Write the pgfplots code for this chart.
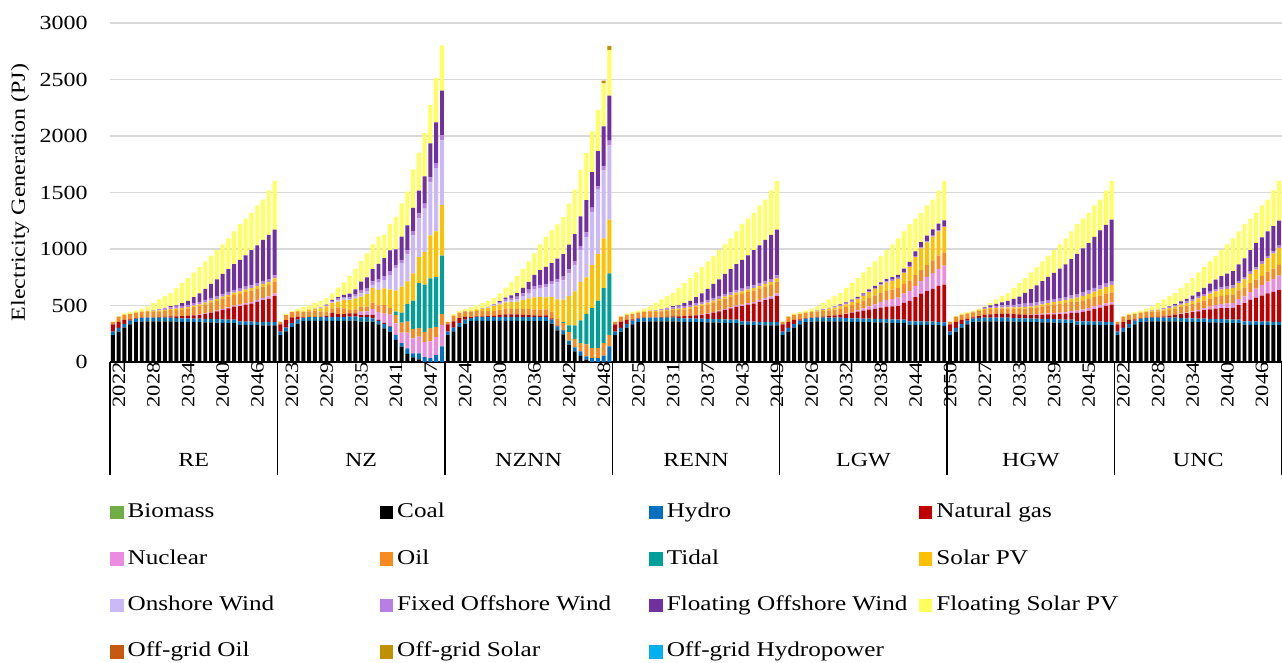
\documentclass[border=0pt]{standalone}
\usepackage{fontspec}
\setmainfont{Liberation Serif}[FakeStretch=1.2]
\usepackage{pgfplots}
\usepackage{pgfplotstable}
\pgfplotsset{compat=1.18}
\definecolor{cBio}{HTML}{70AD47}
\definecolor{cCoal}{HTML}{000000}
\definecolor{cHydro}{HTML}{0070C0}
\definecolor{cGas}{HTML}{C00000}
\definecolor{cNuc}{HTML}{EB8CE0}
\definecolor{cOil}{HTML}{FB8A1E}
\definecolor{cTidal}{HTML}{00A09A}
\definecolor{cSpv}{HTML}{FFC000}
\definecolor{cOnw}{HTML}{CBB9F7}
\definecolor{cFow}{HTML}{B77EE6}
\definecolor{cFlw}{HTML}{7030A0}
\definecolor{cFspv}{HTML}{FFFF5E}
\definecolor{cOgOil}{HTML}{C55A11}
\definecolor{cOgSol}{HTML}{BF9000}
\definecolor{cOgHyd}{HTML}{00B0F0}

% RE group (first rows of the full table)
\pgfplotstableread{
coal hydro gas nuc oil tidal spv onw fow flw fspv ogs
238 30 65 0 22 0 0 0 0 0 3 0
268 33 55 0 45 0 0 0 0 0 4 0
305 32 35 0 45 0 3 0 0 0 10 0
334 32 12 0 45 0 5 0 0 0 14 0
352 32 5 0 45 0 6 0 0 0 15 0
358 32 3 0 48 0 8 0 0 0 23 0
360 32 3 0 48 0 8 0 3 0 38 0
360 32 3 0 48 0 9 0 5 0 63 0
360 32 5 0 50 0 10 0 8 3 87 0
360 32 8 0 52 0 10 0 12 6 102 0
360 32 12 0 55 0 10 0 15 10 116 0
358 31 14 0 58 0 11 0 18 12 153 0
356 31 18 0 60 0 12 0 20 24 176 0
355 31 22 0 65 0 12 0 20 36 202 0
353 31 28 3 70 0 13 0 22 53 220 0
352 31 35 4 75 0 14 0 22 74 233 0
350 31 45 5 80 0 15 0 23 98 243 0
350 31 55 6 85 0 16 0 24 124 249 0
348 31 68 7 88 0 17 0 24 148 261 0
346 31 85 8 90 0 18 0 25 177 260 0
345 30 100 9 92 0 19 0 25 201 274 0
344 30 115 10 95 0 20 0 25 228 288 0
330 30 135 12 96 0 21 0 25 254 317 0
328 30 150 14 97 0 22 0 25 278 324 0
327 30 160 16 98 0 23 0 25 311 330 0
326 30 175 18 99 0 24 0 25 334 354 0
325 30 192 20 100 0 25 0 25 364 356 0
324 30 205 22 102 0 26 0 25 390 394 0
323 30 230 24 104 0 30 0 25 405 429 0
}\alldata

% NZ group
\pgfplotstableread{
coal hydro gas nuc oil tidal spv onw fow flw fspv ogs
238 30 65 0 22 0 0 0 0 0 3 0
271 33 66 0 45 0 0 0 0 0 8 0
310 33 51 0 48 0 0 0 0 0 8 0
340 36 24 0 48 0 3 0 0 0 19 0
361 30 3 0 48 0 6 0 0 0 37 0
364 33 3 0 48 0 15 0 0 0 37 0
364 33 3 0 54 0 18 0 3 0 45 0
364 33 3 0 45 0 30 3 5 0 57 0
364 33 10 0 40 0 45 5 8 3 57 0
364 33 39 0 39 0 45 8 12 10 58 0
364 33 27 0 60 0 51 10 15 15 83 0
364 33 27 0 51 0 75 10 12 22 111 0
366 35 30 0 30 0 88 10 12 35 155 0
366 35 30 0 35 0 97 20 18 41 181 0
357 38 20 30 44 0 89 30 30 74 182 0
357 40 20 30 44 0 109 30 24 94 214 0
357 30 30 50 59 0 127 30 30 109 219 0
333 30 10 70 59 0 136 65 30 135 241 0
298 40 8 83 74 0 148 74 35 160 208 0
268 44 5 103 59 0 162 124 40 183 233 0
195 44 0 103 74 30 186 200 25 140 289 0
136 30 0 94 89 89 230 206 30 206 294 0
71 50 0 139 97 156 200 240 35 222 297 0
41 35 0 133 83 251 242 339 35 206 340 0
24 53 0 148 74 398 230 345 44 200 337 0
0 44 0 133 89 419 289 384 44 240 384 0
0 35 0 147 118 440 380 470 44 300 339 0
0 60 0 162 89 440 404 560 44 362 393 0
0 138 0 191 97 515 447 573 44 397 400 0
}\tabNZ

% NZNN group
\pgfplotstableread{
coal hydro gas nuc oil tidal spv onw fow flw fspv ogs
238 30 65 0 22 0 0 0 0 0 3 0
271 33 55 0 52 0 0 0 0 0 12 0
310 33 45 0 48 0 0 0 0 0 14 0
340 36 24 0 48 0 3 0 0 0 19 0
361 30 6 0 48 0 8 0 0 0 32 0
364 33 6 0 48 0 15 0 0 0 34 0
364 33 6 0 50 0 20 0 3 0 44 0
364 33 8 0 45 0 30 3 5 0 52 0
364 33 12 0 42 0 45 5 8 3 53 0
364 33 20 0 42 0 50 8 12 10 69 0
364 33 25 0 50 0 55 12 15 15 89 0
364 33 24 0 48 0 60 18 20 22 116 0
364 33 24 0 48 0 66 22 22 30 152 0
364 33 20 0 50 0 80 35 25 50 166 0
361 36 18 0 52 0 95 50 28 70 180 0
361 36 15 0 54 0 105 70 30 100 190 0
361 36 12 0 54 0 110 80 30 130 227 0
361 36 15 0 54 0 105 90 30 150 267 0
340 36 10 0 60 0 130 110 30 160 288 0
280 36 5 0 63 0 171 150 30 180 302 0
244 36 3 0 60 10 200 170 32 200 330 0
153 36 0 0 75 60 260 200 35 220 363 0
93 36 0 0 75 120 300 230 38 240 394 0
54 39 0 0 75 200 340 280 40 260 414 0
20 30 0 0 105 270 323 360 40 285 416 0
0 35 0 0 88 353 382 470 38 315 359 0
0 35 0 0 88 420 412 570 29 312 365 0
0 56 0 0 112 485 441 603 35 353 381 24
0 138 0 0 103 544 476 655 44 397 403 38
}\tabNZNN

% RENN group
\pgfplotstableread{
coal hydro gas nuc oil tidal spv onw fow flw fspv ogs
238 30 65 0 22 0 0 0 0 0 3 0
268 33 55 0 45 0 0 0 0 0 4 0
305 32 35 0 45 0 3 0 0 0 10 0
334 32 12 0 45 0 5 0 0 0 14 0
352 32 5 0 45 0 6 0 0 0 15 0
358 32 3 0 48 0 8 0 0 0 23 0
360 32 3 0 48 0 8 0 3 0 38 0
360 32 3 0 48 0 9 0 5 0 63 0
360 32 5 0 50 0 10 0 8 3 87 0
360 32 8 0 52 0 10 0 12 6 102 0
360 32 12 0 55 0 10 0 15 10 116 0
358 31 14 0 58 0 11 0 18 12 153 0
356 31 18 0 60 0 12 0 20 24 176 0
355 31 22 0 65 0 12 0 20 36 202 0
353 31 28 3 70 0 13 0 22 53 220 0
352 31 35 4 75 0 14 0 22 74 233 0
350 31 45 5 80 0 15 0 23 98 243 0
350 31 55 6 85 0 16 0 24 124 249 0
348 31 68 7 88 0 17 0 24 148 261 0
346 31 85 8 90 0 18 0 25 177 260 0
345 30 100 9 92 0 19 0 25 201 274 0
344 30 115 10 95 0 20 0 25 228 288 0
330 30 135 12 96 0 21 0 25 254 317 0
328 30 150 14 97 0 22 0 25 278 324 0
327 30 160 16 98 0 23 0 25 311 330 0
326 30 175 18 99 0 24 0 25 334 354 0
325 30 192 20 100 0 25 0 25 364 356 0
324 30 205 22 102 0 26 0 25 390 394 0
323 30 230 24 104 0 30 0 25 405 429 0
}\tabRENN

% LGW group
\pgfplotstableread{
coal hydro gas nuc oil tidal spv onw fow flw fspv ogs
238 30 65 0 22 0 0 0 0 0 3 0
268 33 55 0 45 0 0 0 0 0 4 0
305 32 35 0 45 0 3 0 0 0 10 0
334 32 12 0 45 0 5 0 0 0 14 0
352 32 5 0 45 0 6 0 0 0 15 0
358 32 3 0 48 0 8 0 0 0 23 0
360 32 5 0 48 0 10 0 3 0 34 0
360 32 10 0 48 0 12 0 5 0 53 0
360 32 15 0 50 0 15 0 8 0 75 0
360 32 20 0 52 0 18 0 10 3 87 0
360 32 25 0 55 0 22 0 10 5 101 0
358 31 35 3 58 0 26 0 10 6 128 0
356 31 50 6 60 0 30 0 10 8 146 0
355 31 60 10 65 0 35 0 10 10 167 0
353 31 70 20 70 0 42 0 10 12 185 0
352 31 80 30 75 0 50 0 10 14 198 0
350 31 90 40 78 0 58 0 10 16 217 0
350 31 100 50 80 0 66 0 10 18 235 0
348 31 110 58 82 0 75 0 10 20 258 0
346 31 115 65 83 0 78 0 10 22 290 0
345 30 120 74 85 0 82 0 10 25 324 0
344 30 150 80 88 0 95 0 10 30 328 0
330 30 180 90 90 0 120 0 10 35 335 0
329 30 215 100 94 0 160 0 10 40 290 0
329 30 246 110 98 0 192 0 10 45 260 0
328 30 270 125 105 0 200 0 10 50 267 0
327 30 290 140 112 0 210 0 10 55 263 0
326 30 317 150 118 0 216 0 10 57 294 0
320 30 334 169 118 0 222 0 10 50 347 0
}\tabLGW

% HGW group
\pgfplotstableread{
coal hydro gas nuc oil tidal spv onw fow flw fspv ogs
238 30 65 0 22 0 0 0 0 0 3 0
268 33 55 0 45 0 0 0 0 0 4 0
305 32 35 0 45 0 3 0 0 0 10 0
334 32 15 0 45 0 5 0 0 0 11 0
352 32 10 0 45 0 6 0 0 0 10 0
358 32 15 0 45 0 8 0 3 0 11 0
360 32 25 0 45 0 8 0 8 5 9 0
360 32 30 0 45 0 9 0 12 12 20 0
360 32 33 0 45 0 10 0 15 20 40 0
360 32 35 0 45 0 10 0 18 28 54 0
360 32 35 0 45 0 12 0 20 38 68 0
358 31 35 0 48 0 12 0 22 52 97 0
356 31 34 0 50 0 13 0 25 70 118 0
355 31 33 0 53 0 14 0 30 95 132 0
353 31 33 3 56 0 15 0 33 121 148 0
352 31 35 5 60 0 16 0 30 150 161 0
350 31 38 8 65 0 18 0 28 178 174 0
350 31 40 10 70 0 20 0 27 205 187 0
348 31 43 12 75 0 21 0 27 232 203 0
346 31 46 14 80 0 22 0 27 260 214 0
345 30 50 15 83 0 24 0 27 290 231 0
344 30 60 17 82 0 28 0 30 320 244 0
330 30 75 19 81 0 34 0 32 355 264 0
329 30 85 22 80 0 40 0 34 385 263 0
329 30 95 24 80 0 44 0 35 414 269 0
328 30 110 24 82 0 48 0 35 450 278 0
327 30 125 23 84 0 53 0 33 490 272 0
326 30 140 22 86 0 58 0 32 520 304 0
326 30 151 21 89 0 65 0 30 548 340 0
}\tabHGW

% UNC group
\pgfplotstableread{
coal hydro gas nuc oil tidal spv onw fow flw fspv ogs
238 30 65 0 22 0 0 0 0 0 3 0
268 33 55 0 45 0 0 0 0 0 4 0
305 32 35 0 45 0 3 0 0 0 10 0
334 32 12 0 45 0 5 0 0 0 14 0
352 32 5 0 45 0 6 0 0 0 15 0
358 32 3 0 48 0 8 0 0 0 23 0
360 32 5 0 48 0 8 0 3 0 36 0
360 32 8 0 48 0 10 0 5 0 57 0
360 32 12 0 50 0 12 0 8 3 78 0
360 32 18 0 52 0 15 0 10 6 89 0
360 32 25 0 55 0 18 0 12 10 98 0
358 31 35 3 58 0 22 0 14 15 119 0
356 31 45 5 60 0 25 0 15 22 138 0
355 31 55 8 63 0 30 0 15 30 156 0
353 31 65 12 66 0 35 0 16 40 175 0
352 31 75 18 68 0 40 0 17 55 184 0
350 31 85 24 70 0 45 0 18 70 197 0
350 31 92 30 72 0 50 0 19 85 211 0
348 31 97 36 73 0 55 0 20 100 232 0
346 31 100 40 74 0 57 0 20 115 257 0
345 30 104 44 75 0 59 0 20 127 291 0
344 30 130 52 78 0 65 0 20 145 291 0
330 30 160 60 80 0 72 0 20 165 303 0
329 30 190 70 80 0 80 0 20 190 279 0
329 30 210 80 80 0 89 0 20 213 269 0
328 30 230 92 83 0 105 0 20 215 282 0
327 30 250 105 87 0 120 0 20 218 280 0
326 30 265 115 91 0 135 0 20 220 316 0
326 30 281 127 95 0 151 0 20 222 348 0
}\tabUNC

\pgfplotstablevertcat{\alldata}{\tabNZ}
\pgfplotstablevertcat{\alldata}{\tabNZNN}
\pgfplotstablevertcat{\alldata}{\tabRENN}
\pgfplotstablevertcat{\alldata}{\tabLGW}
\pgfplotstablevertcat{\alldata}{\tabHGW}
\pgfplotstablevertcat{\alldata}{\tabUNC}

\pgfplotsset{
  sq/.style={legend image code/.code={\fill[##1] (0pt,-3.4pt) rectangle (6.8pt,3.4pt);}},
}
\newcommand{\lgE}[1]{\makebox[126pt][l]{\fontsize{10.5pt}{12pt}\selectfont #1}}

\begin{document}
\begin{tikzpicture}
\useasboundingbox (-55pt,-150.5pt) rectangle (586pt,181pt);
\begin{axis}[
  at={(0,0)}, anchor=south west,
  width=586pt, height=169.5pt, scale only axis,
  ybar stacked, bar width=0.68,
  xmin=-0.5, xmax=202.5, ymin=0, ymax=3000,
  enlargelimits=false, clip=false,
  axis line style={draw=none},
  ytick={0,500,...,3000},
  scaled ticks=false,
  /pgf/number format/1000 sep={},
  /pgf/number format/assume math mode=true,
  xtick={0,6,...,198},
  xticklabels={2022,2028,2034,2040,2046,2023,2029,2035,2041,2047,2024,2030,2036,2042,2048,2025,2031,2037,2043,2049,2026,2032,2038,2044,2050,2027,2033,2039,2045,2022,2028,2034,2040,2046},
  major tick length=0pt,
  xticklabel style={rotate=90, anchor=east, inner sep=0pt, yshift=-3pt, font=\fontsize{9.4pt}{11pt}\selectfont},
  yticklabel style={anchor=east, inner sep=0pt, xshift=-11pt},
  ymajorgrids, major grid style={line width=0.8pt, draw=black!15},
  every axis y label/.style={at={(axis description cs:-0.0768,0.5)}, rotate=90, anchor=center},
  ylabel={Electricity Generation (PJ)},
  legend columns=4,
  legend style={draw=none, fill=none, inner sep=0pt, outer sep=0pt,
    at={(0,-0.415)}, anchor=north west,
    nodes={inner sep=0pt, text height=7.5pt, text depth=2.5pt},
    column sep=0pt, row sep=13.2pt,
    /tikz/every odd column/.style={column sep=2pt}},
  legend cell align=left,
]
\addlegendimage{sq, fill=cBio, draw=none}
\addlegendentry{\lgE{Biomass}}
\addplot[sq, fill=cCoal, draw=none] table[x expr=\coordindex, y=coal] {\alldata};
\addlegendentry{\lgE{Coal}}
\addplot[sq, fill=cHydro, draw=none] table[x expr=\coordindex, y=hydro] {\alldata};
\addlegendentry{\lgE{Hydro}}
\addplot[sq, fill=cGas, draw=none] table[x expr=\coordindex, y=gas] {\alldata};
\addlegendentry{\lgE{Natural gas}}
\addplot[sq, fill=cNuc, draw=none] table[x expr=\coordindex, y=nuc] {\alldata};
\addlegendentry{\lgE{Nuclear}}
\addplot[sq, fill=cOil, draw=none] table[x expr=\coordindex, y=oil] {\alldata};
\addlegendentry{\lgE{Oil}}
\addplot[sq, fill=cTidal, draw=none] table[x expr=\coordindex, y=tidal] {\alldata};
\addlegendentry{\lgE{Tidal}}
\addplot[sq, fill=cSpv, draw=none] table[x expr=\coordindex, y=spv] {\alldata};
\addlegendentry{\lgE{Solar PV}}
\addplot[sq, fill=cOnw, draw=none] table[x expr=\coordindex, y=onw] {\alldata};
\addlegendentry{\lgE{Onshore Wind}}
\addplot[sq, fill=cFow, draw=none] table[x expr=\coordindex, y=fow] {\alldata};
\addlegendentry{\lgE{Fixed Offshore Wind}}
\addplot[sq, fill=cFlw, draw=none] table[x expr=\coordindex, y=flw] {\alldata};
\addlegendentry{\lgE{Floating Offshore Wind}}
\addplot[sq, fill=cFspv, draw=none] table[x expr=\coordindex, y=fspv] {\alldata};
\addlegendentry{\lgE{Floating Solar PV}}
\addlegendimage{sq, fill=cOgOil, draw=none}
\addlegendentry{\lgE{Off-grid Oil}}
\addplot[sq, fill=cOgSol, draw=none] table[x expr=\coordindex, y=ogs] {\alldata};
\addlegendentry{\lgE{Off-grid Solar}}
\addlegendimage{sq, fill=cOgHyd, draw=none}
\addlegendentry{\lgE{Off-grid Hydropower}}

\draw[line width=0.9pt] (axis cs:-0.5,0) -- (axis cs:202.5,0);
\draw[line width=0.7pt] (axis cs:-0.5,0) -- ++(0pt,-56.5pt);
\draw[line width=0.7pt] (axis cs:28.5,0) -- ++(0pt,-56.5pt);
\draw[line width=0.7pt] (axis cs:57.5,0) -- ++(0pt,-56.5pt);
\draw[line width=0.7pt] (axis cs:86.5,0) -- ++(0pt,-56.5pt);
\draw[line width=0.7pt] (axis cs:115.5,0) -- ++(0pt,-56.5pt);
\draw[line width=0.7pt] (axis cs:144.5,0) -- ++(0pt,-56.5pt);
\draw[line width=0.7pt] (axis cs:173.5,0) -- ++(0pt,-56.5pt);
\draw[line width=0.7pt] (axis cs:202.5,0) -- ++(0pt,-56.5pt);
\node[yshift=-49pt] at (axis cs:14,0) {RE};
\node[yshift=-49pt] at (axis cs:43,0) {NZ};
\node[yshift=-49pt] at (axis cs:72,0) {NZNN};
\node[yshift=-49pt] at (axis cs:101,0) {RENN};
\node[yshift=-49pt] at (axis cs:130,0) {LGW};
\node[yshift=-49pt] at (axis cs:159,0) {HGW};
\node[yshift=-49pt] at (axis cs:188,0) {UNC};
\end{axis}
\end{tikzpicture}
\end{document}
